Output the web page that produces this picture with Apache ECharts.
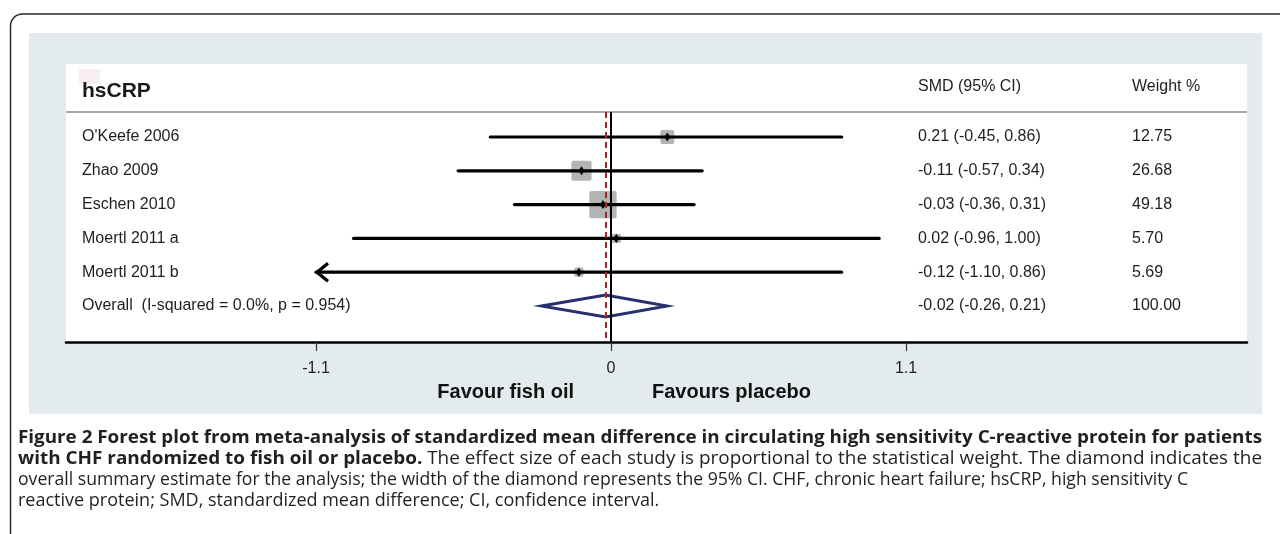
<!DOCTYPE html>
<html>
<head>
<meta charset="utf-8">
<script src="https://cdn.jsdelivr.net/npm/echarts@6/dist/echarts.min.js"></script>
<style>
html, body { margin: 0; padding: 0; background: #fff; }
#chart { width: 1280px; height: 534px; }
</style>
</head>
<body>
<div id="chart"></div>
<script>
// Study-level results (standardized mean difference, 95% CI, weight %)
const studies = ["O'Keefe 2006", "Zhao 2009", "Eschen 2010", "Moertl 2011 a", "Moertl 2011 b"];
const smd     = [0.21, -0.11, -0.03, 0.02, -0.12];
const ciLow   = [-0.45, -0.57, -0.36, -0.96, -1.10];
const ciHigh  = [0.86, 0.34, 0.31, 1.00, 0.86];
const weights = [12.75, 26.68, 49.18, 5.70, 5.69];

// Pooled estimate
const overallLabel  = 'Overall  (I-squared = 0.0%, p = 0.954)';
const overallEst    = -0.02;
const overallLow    = -0.26;
const overallHigh   = 0.21;
const overallWeight = 100.00;

// Axis ticks
const tickValues = [-1.1, 0, 1.1];
const tickLabels = ['-1.1', '0', '1.1'];

// Figure legend lines: [bold part, regular part]
const captionLines = [
  ['Figure 2 Forest plot from meta-analysis of standardized mean difference in circulating high sensitivity C-reactive protein for patients', ''],
  ['with CHF randomized to fish oil or placebo.', ' The effect size of each study is proportional to the statistical weight. The diamond indicates the'],
  ['', 'overall summary estimate for the analysis; the width of the diamond represents the 95% CI. CHF, chronic heart failure; hsCRP, high sensitivity C'],
  ['', 'reactive protein; SMD, standardized mean difference; CI, confidence interval.']
];

const FONT = '"Liberation Sans", Arial, sans-serif';
const CAP_FONT = '"Open Sans", "Noto Sans", sans-serif';
const TXT = '#1e1e1e';
const ROW_FONT = '16px ' + FONT;

// Plot frame in pixels
const G_LEFT = 66, G_RIGHT = 1247, G_TOP = 112, G_BOTTOM = 342;
const COL_NAME = 82, COL_SMD = 918, COL_W = 1132;
// x scale: 0 sits at 611 px, 1.1 units span 295 px
const PX_PER_UNIT = 295 / 1.1;
const ZERO_PX = 611;
const X_MIN = (G_LEFT - ZERO_PX) / PX_PER_UNIT;
const X_MAX = (G_RIGHT - ZERO_PX) / PX_PER_UNIT;
const CLIP_LOW = tickValues[0];

const fmt = v => v.toFixed(2);

const studyData = studies.map((s, i) => [smd[i], ciLow[i], ciHigh[i], weights[i], i]);

function rowTexts(y, name, ci, w) {
  return [
    { type: 'text', style: { x: COL_NAME, y, text: name, font: ROW_FONT, fill: TXT, verticalAlign: 'middle' } },
    { type: 'text', style: { x: COL_SMD, y, text: ci, font: ROW_FONT, fill: TXT, verticalAlign: 'middle' } },
    { type: 'text', style: { x: COL_W, y, text: w, font: ROW_FONT, fill: TXT, verticalAlign: 'middle' } }
  ];
}

function renderStudy(params, api) {
  const i = api.value(4);
  const y = api.coord([0, i])[1];
  const xe = api.coord([api.value(0), i])[0];
  const xl = api.coord([api.value(1), i])[0];
  const xh = api.coord([api.value(2), i])[0];
  const side = Math.sqrt(api.value(3)) * 3.9;
  const children = [
    { type: 'rect', shape: { x: xe - side / 2, y: y - side / 2, width: side, height: side, r: 2 },
      style: { fill: '#b3b3b3' } },
    { type: 'line', shape: { x1: xl, y1: y, x2: xh, y2: y },
      style: { stroke: '#000', lineWidth: 3.2, lineCap: 'round' } },
    { type: 'polygon', shape: { points: [[xe - 3, y], [xe, y - 4.5], [xe + 3, y], [xe, y + 4.5]] },
      style: { fill: '#000' } }
  ].concat(rowTexts(y, studies[i],
    fmt(smd[i]) + ' (' + fmt(ciLow[i]) + ', ' + fmt(ciHigh[i]) + ')', fmt(weights[i])));
  if (api.value(1) <= CLIP_LOW) {
    children.push({ type: 'polyline', shape: { points: [[xl + 12, y - 9], [xl + 1, y], [xl + 12, y + 9]] },
      style: { stroke: '#000', lineWidth: 3.2, fill: null, lineJoin: 'miter' } });
  }
  return { type: 'group', children };
}

const overallRow = studies.length;
function renderOverall(params, api) {
  const y = api.coord([0, overallRow])[1];
  const xe = api.coord([api.value(0), overallRow])[0];
  const xl = api.coord([api.value(1), overallRow])[0];
  const xh = api.coord([api.value(2), overallRow])[0];
  const h = 11;
  return {
    type: 'group',
    children: [
      { type: 'polygon', shape: { points: [[xl, y], [xe, y - h], [xh, y], [xe, y + h]] },
        style: { fill: '#fff', stroke: '#27306f', lineWidth: 2.8, lineJoin: 'miter' } }
    ].concat(rowTexts(y, overallLabel,
      fmt(overallEst) + ' (' + fmt(overallLow) + ', ' + fmt(overallHigh) + ')', fmt(overallWeight)))
  };
}

const rowStart = 137, rowStep = 33.8;
const Y_MIN = (G_TOP - rowStart) / rowStep;
const Y_MAX = (G_BOTTOM - rowStart) / rowStep;

// Legend text layout: stretch each line to its column width
const CAP_SIZE = 18;
const CAP_X = 18;
const capTargets = [1244, 1244, 1170, null];
const capY = [438, 459, 480, 501];
const mctx = document.createElement('canvas').getContext('2d');
function measure(bold, regular) {
  let w = 0;
  if (bold) { mctx.font = 'bold ' + CAP_SIZE + 'px ' + CAP_FONT; w += mctx.measureText(bold).width; }
  if (regular) { mctx.font = CAP_SIZE + 'px ' + CAP_FONT; w += mctx.measureText(regular).width; }
  return w;
}
const capRich = {
  b: { fontFamily: CAP_FONT, fontSize: CAP_SIZE, fontWeight: 'bold', color: '#231f20' },
  n: { fontFamily: CAP_FONT, fontSize: CAP_SIZE, color: '#231f20' }
};
const captionGraphics = captionLines.map((parts, k) => {
  const [bold, regular] = parts;
  const natural = measure(bold, regular);
  const sx = capTargets[k] ? capTargets[k] / natural : 1;
  const text = (bold ? '{b|' + bold + '}' : '') + (regular ? '{n|' + regular + '}' : '');
  return {
    type: 'text', x: CAP_X, y: capY[k], scaleX: sx, z: 5,
    style: { text, rich: capRich, font: CAP_SIZE + 'px ' + CAP_FONT, fill: '#231f20', verticalAlign: 'middle' }
  };
});

const chart = echarts.init(document.getElementById('chart'), null, { renderer: 'canvas' });

chart.setOption({
  animation: false,
  backgroundColor: '#fff',
  grid: { left: G_LEFT, right: 1280 - G_RIGHT, top: G_TOP, bottom: 534 - G_BOTTOM },
  xAxis: {
    type: 'value', min: X_MIN, max: X_MAX,
    axisLine: { show: true, onZero: false, lineStyle: { color: '#000', width: 2.5 } },
    axisTick: { show: true, customValues: tickValues, length: 9, lineStyle: { color: '#333', width: 1.2 } },
    axisLabel: {
      show: true, customValues: tickValues, margin: 19,
      formatter: v => {
        const k = tickValues.findIndex(t => Math.abs(t - v) < 1e-9);
        return k >= 0 ? tickLabels[k] : '';
      },
      fontFamily: FONT, fontSize: 16, color: TXT
    },
    splitLine: { show: false }
  },
  yAxis: { type: 'value', min: Y_MIN, max: Y_MAX, inverse: true, show: false, splitLine: { show: false } },
  graphic: [
    // outer frame with rounded corner (right and bottom edges fall outside the page)
    { type: 'rect', z: 0, shape: { x: 10.5, y: 14, width: 1400, height: 700, r: 12 },
      style: { stroke: '#2a2a2a', lineWidth: 1.5, fill: '#fff' } },
    // panel backgrounds
    { type: 'rect', z: 0, shape: { x: 29, y: 33, width: 1233, height: 381 }, style: { fill: '#e3ebed' } },
    { type: 'rect', z: 0, shape: { x: G_LEFT, y: 64, width: G_RIGHT - G_LEFT, height: G_BOTTOM - 64 }, style: { fill: '#fff' } },
    { type: 'rect', z: 0, shape: { x: 79, y: 69, width: 21, height: 15 }, style: { fill: '#f6eef0' } },
    // header
    { type: 'line', z: 1, shape: { x1: G_LEFT, y1: G_TOP, x2: G_RIGHT, y2: G_TOP }, style: { stroke: '#a9a9a9', lineWidth: 2 } },
    { type: 'text', z: 3, x: COL_NAME, y: 91, style: { text: 'hsCRP', font: 'bold 21px ' + FONT, fill: '#1a1a1a', verticalAlign: 'middle' } },
    { type: 'text', z: 3, x: COL_SMD, y: 87, style: { text: 'SMD (95% CI)', font: ROW_FONT, fill: TXT, verticalAlign: 'middle' } },
    { type: 'text', z: 3, x: COL_W, y: 87, style: { text: 'Weight %', font: ROW_FONT, fill: TXT, verticalAlign: 'middle' } },
    // axis captions
    { type: 'text', z: 3, x: 574, y: 392, style: { text: 'Favour fish oil', font: 'bold 20px ' + FONT, fill: '#111', align: 'right', verticalAlign: 'middle' } },
    { type: 'text', z: 3, x: 652, y: 392, style: { text: 'Favours placebo', font: 'bold 20px ' + FONT, fill: '#111', verticalAlign: 'middle' } }
  ].concat(captionGraphics),
  series: [
    {
      type: 'custom', name: 'studies', z: 3, clip: false,
      renderItem: renderStudy,
      encode: { x: [0, 1, 2], y: 4 },
      data: studyData
    },
    {
      type: 'custom', name: 'overall', z: 3, clip: false,
      renderItem: renderOverall,
      encode: { x: [0, 1, 2] },
      data: [[overallEst, overallLow, overallHigh]]
    },
    {
      type: 'scatter', name: 'reference lines', z: 6, data: [], silent: true,
      markLine: {
        silent: true, symbol: 'none', label: { show: false }, animation: false,
        data: [
          { xAxis: 0, lineStyle: { color: '#000', width: 2, type: 'solid' } },
          { xAxis: overallEst, lineStyle: { color: '#a3262b', width: 2, type: [6, 4] } }
        ]
      }
    }
  ]
});
</script>
</body>
</html>
